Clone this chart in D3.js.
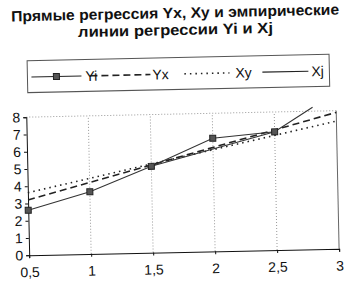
<!DOCTYPE html>
<html>
<head>
<meta charset="utf-8">
<script src="https://cdn.jsdelivr.net/npm/d3@7"></script>
<style>
  body { margin: 0; background: #fff; }
  svg { display: block; }
  text { font-family: "Liberation Sans", Arial, sans-serif; fill: #111; }
</style>
</head>
<body>
<div id="chart"></div>
<script>
// title lines
var titleLines = ["Прямые регрессия Yx, Xy и эмпирические", "линии регрессии Yi и Xj"];
var titleWidths = [328, 195];

// axis ticks
var xTicks = [0.5, 1, 1.5, 2, 2.5, 3];
var xTickLabels = ["0,5", "1", "1,5", "2", "2,5", "3"];
var yTicks = [0, 1, 2, 3, 4, 5, 6, 7, 8];

// series
var yiX = [0.5, 1, 1.5, 2, 2.5];
var yiY = [2.6, 3.6, 5.0, 6.55, 6.85];
var yxX = [0.5, 3];
var yxY = [3.2, 7.9];
var xyX = [0.5, 3];
var xyY = [3.62, 7.4];
var xjX = [1.5, 2.5, 2.81];
var xjY = [5.0, 6.85, 8.23];

var legendNames = ["Yi", "Yx", "Xy", "Xj"];

var W = 356, H = 286;
var svg = d3.select("#chart").append("svg")
    .attr("width", W)
    .attr("height", H);

// the scan is slightly tilted
var g = svg.append("g").attr("transform", "rotate(-1.2,178,150)");

var x = d3.scaleLinear().domain([0.5, 3]).range([27, 337]);
var y = d3.scaleLinear().domain([0, 8]).range([252, 114]);

// title
g.selectAll(".title")
    .data(titleLines)
    .enter()
    .append("text")
    .attr("class", "title")
    .attr("x", 178)
    .attr("y", function(d, i){ return 18 + i * 17; })
    .attr("text-anchor", "middle")
    .attr("font-size", "15px")
    .attr("font-weight", "bold")
    .attr("textLength", function(d, i){ return titleWidths[i]; })
    .attr("lengthAdjust", "spacingAndGlyphs")
    .text(function(d){ return d; });

// legend
var legend = g.append("g");
legend.append("rect")
    .attr("x", 29).attr("y", 57.5)
    .attr("width", 302).attr("height", 32)
    .attr("fill", "none")
    .attr("stroke", "#555")
    .attr("stroke-width", 1);

var legItems = [
    {x1: 33, x2: 83, tx: 87, dash: null, w: 1, marker: true},
    {x1: 92, x2: 152, tx: 154, dash: "7,4", w: 1.6, marker: false},
    {x1: 186, x2: 231, tx: 237, dash: "1.5,4", w: 1.6, marker: false},
    {x1: 264, x2: 310, tx: 313, dash: null, w: 1.2, marker: false}
];
var legY = 74;

legend.selectAll(".legline")
    .data(legItems)
    .enter()
    .append("line")
    .attr("x1", function(d){ return d.x1; })
    .attr("x2", function(d){ return d.x2; })
    .attr("y1", legY).attr("y2", legY)
    .attr("stroke", "#222")
    .attr("stroke-width", function(d){ return d.w; })
    .attr("stroke-dasharray", function(d){ return d.dash; });

legend.append("rect")
    .attr("x", 55).attr("y", legY - 3)
    .attr("width", 6).attr("height", 6)
    .attr("fill", "#555").attr("stroke", "#222");

legend.selectAll(".legtext")
    .data(legItems)
    .enter()
    .append("text")
    .attr("x", function(d){ return d.tx; })
    .attr("y", legY + 5)
    .attr("font-size", "14px")
    .text(function(d, i){ return legendNames[i]; });

// gridlines
g.selectAll(".vgrid")
    .data(xTicks.slice(1, 5))
    .enter()
    .append("line")
    .attr("x1", function(d){ return x(d); })
    .attr("x2", function(d){ return x(d); })
    .attr("y1", y(0)).attr("y2", y(8))
    .attr("stroke", "#999")
    .attr("stroke-dasharray", "1,2");

g.append("line")
    .attr("x1", x(0.5)).attr("x2", x(3))
    .attr("y1", y(8)).attr("y2", y(8))
    .attr("stroke", "#999")
    .attr("stroke-dasharray", "1,2");

g.append("line")
    .attr("x1", x(3)).attr("x2", x(3))
    .attr("y1", y(0)).attr("y2", y(8))
    .attr("stroke", "#666");

// axes
var xAxis = d3.axisBottom(x)
    .tickValues(xTicks)
    .tickSize(3)
    .tickFormat(function(d, i){ return xTickLabels[i]; });
var gx = g.append("g")
    .attr("transform", "translate(0," + y(0) + ")")
    .call(xAxis);
gx.select(".domain").attr("stroke", "#111");
gx.selectAll(".tick line").attr("stroke", "#111");
gx.selectAll(".tick text")
    .attr("font-size", "14px")
    .attr("font-family", "Liberation Sans, Arial, sans-serif")
    .attr("fill", "#111")
    .attr("y", 12);

var yAxis = d3.axisLeft(y)
    .tickValues(yTicks)
    .tickSize(3)
    .tickFormat(d3.format("d"));
var gy = g.append("g")
    .attr("transform", "translate(" + x(0.5) + ",0)")
    .call(yAxis);
gy.select(".domain").attr("stroke", "#111");
gy.selectAll(".tick line").attr("stroke", "#111");
gy.selectAll(".tick text")
    .attr("font-size", "14px")
    .attr("font-family", "Liberation Sans, Arial, sans-serif")
    .attr("fill", "#111")
    .attr("x", -6);

// series lines
var line = d3.line()
    .x(function(d){ return x(d[0]); })
    .y(function(d){ return y(d[1]); });

function pairs(xs, ys){ return xs.map(function(v, i){ return [v, ys[i]]; }); }

g.append("path")
    .attr("d", line(pairs(xyX, xyY)))
    .attr("fill", "none")
    .attr("stroke", "#222")
    .attr("stroke-width", 1.6)
    .attr("stroke-dasharray", "1.5,4");

g.append("path")
    .attr("d", line(pairs(yxX, yxY)))
    .attr("fill", "none")
    .attr("stroke", "#222")
    .attr("stroke-width", 1.6)
    .attr("stroke-dasharray", "7,4");

g.append("path")
    .attr("d", line(pairs(xjX, xjY)))
    .attr("fill", "none")
    .attr("stroke", "#333")
    .attr("stroke-width", 1.1);

g.append("path")
    .attr("d", line(pairs(yiX, yiY)))
    .attr("fill", "none")
    .attr("stroke", "#333")
    .attr("stroke-width", 1);

g.selectAll(".marker")
    .data(pairs(yiX, yiY))
    .enter()
    .append("rect")
    .attr("class", "marker")
    .attr("x", function(d){ return x(d[0]) - 3; })
    .attr("y", function(d){ return y(d[1]) - 3; })
    .attr("width", 6)
    .attr("height", 6)
    .attr("fill", "#555")
    .attr("stroke", "#222");
</script>
</body>
</html>
